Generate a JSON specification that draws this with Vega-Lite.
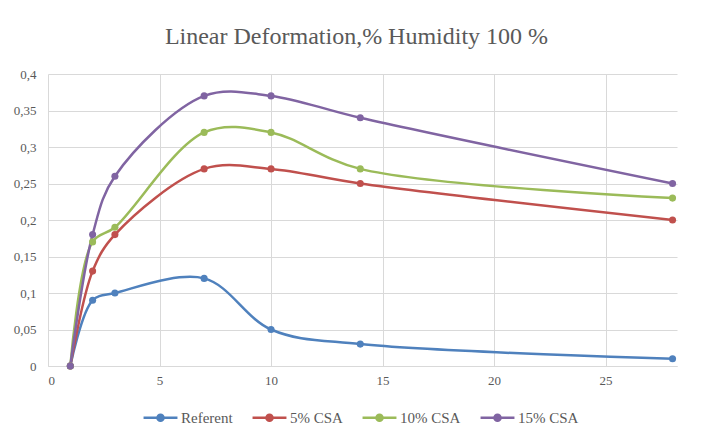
{
  "$schema": "https://vega.github.io/schema/vega-lite/v6.json",
  "width": 629,
  "height": 292,
  "autosize": {"type": "none"},
  "padding": {"left": 48, "top": 74, "right": 24, "bottom": 72},
  "background": "white",
  "config": {
    "view": {"stroke": null},
    "font": "Liberation Serif"
  },
  "title": {
    "text": "Linear Deformation,% Humidity 100 %",
    "fontSize": 24,
    "font": "Liberation Serif",
    "fontWeight": "normal",
    "color": "#595959",
    "anchor": "middle",
    "offset": 19,
    "dx": -6
  },
  "data": {
    "values": [
      {"day": 1, "v": 0, "s": "Referent"},
      {"day": 2, "v": 0.09, "s": "Referent"},
      {"day": 3, "v": 0.1, "s": "Referent"},
      {"day": 7, "v": 0.12, "s": "Referent"},
      {"day": 10, "v": 0.05, "s": "Referent"},
      {"day": 14, "v": 0.03, "s": "Referent"},
      {"day": 28, "v": 0.01, "s": "Referent"},
      {"day": 1, "v": 0, "s": "5% CSA"},
      {"day": 2, "v": 0.13, "s": "5% CSA"},
      {"day": 3, "v": 0.18, "s": "5% CSA"},
      {"day": 7, "v": 0.27, "s": "5% CSA"},
      {"day": 10, "v": 0.27, "s": "5% CSA"},
      {"day": 14, "v": 0.25, "s": "5% CSA"},
      {"day": 28, "v": 0.2, "s": "5% CSA"},
      {"day": 1, "v": 0, "s": "10% CSA"},
      {"day": 2, "v": 0.17, "s": "10% CSA"},
      {"day": 3, "v": 0.19, "s": "10% CSA"},
      {"day": 7, "v": 0.32, "s": "10% CSA"},
      {"day": 10, "v": 0.32, "s": "10% CSA"},
      {"day": 14, "v": 0.27, "s": "10% CSA"},
      {"day": 28, "v": 0.23, "s": "10% CSA"},
      {"day": 1, "v": 0, "s": "15% CSA"},
      {"day": 2, "v": 0.18, "s": "15% CSA"},
      {"day": 3, "v": 0.26, "s": "15% CSA"},
      {"day": 7, "v": 0.37, "s": "15% CSA"},
      {"day": 10, "v": 0.37, "s": "15% CSA"},
      {"day": 14, "v": 0.34, "s": "15% CSA"},
      {"day": 28, "v": 0.25, "s": "15% CSA"}
    ]
  },
  "encoding": {
    "x": {
      "field": "day",
      "type": "quantitative",
      "scale": {"domain": [0, 28.2], "nice": false, "zero": true},
      "axis": {
        "title": null,
        "values": [0, 5, 10, 15, 20, 25],
        "grid": true,
        "gridColor": "#d9d9d9",
        "domainColor": "#d9d9d9",
        "ticks": false,
        "labelColor": "#595959",
        "labelFontSize": 13,
        "labelFont": "Liberation Serif",
        "labelPadding": 8
      }
    },
    "y": {
      "field": "v",
      "type": "quantitative",
      "scale": {"domain": [0, 0.4], "nice": false},
      "axis": {
        "title": null,
        "values": [0, 0.05, 0.1, 0.15, 0.2, 0.25, 0.3, 0.35, 0.4],
        "labelExpr": "replace(format(datum.value, '.2~f'), '.', ',')",
        "grid": true,
        "gridColor": "#d9d9d9",
        "domain": false,
        "ticks": false,
        "labelColor": "#595959",
        "labelFontSize": 13,
        "labelFont": "Liberation Serif",
        "labelPadding": 12
      }
    },
    "color": {
      "field": "s",
      "type": "nominal",
      "sort": ["Referent", "5% CSA", "10% CSA", "15% CSA"],
      "scale": {
        "domain": ["Referent", "5% CSA", "10% CSA", "15% CSA"],
        "range": ["#4f81bd", "#c0504d", "#9bbb59", "#8064a2"]
      },
      "legend": {
        "title": null,
        "orient": "none",
        "direction": "horizontal",
        "legendX": 94,
        "legendY": 325,
        "symbolType": "M -1 0 L 1 0 M 0.18 0 A 0.18 0.18 0 1 1 -0.18 0 A 0.18 0.18 0 1 1 0.18 0 Z",
        "symbolSize": 1150,
        "symbolStrokeWidth": 2.5,
        "symbolOpacity": 1,
        "labelFontSize": 15,
        "labelFont": "Liberation Serif",
        "labelColor": "#595959",
        "columnPadding": 14,
        "labelOffset": 2
      }
    }
  },
  "layer": [
    {
      "mark": {"type": "line", "interpolate": "catmull-rom", "strokeWidth": 2.5}
    },
    {
      "mark": {"type": "point", "filled": true, "size": 50, "opacity": 1}
    }
  ]
}
